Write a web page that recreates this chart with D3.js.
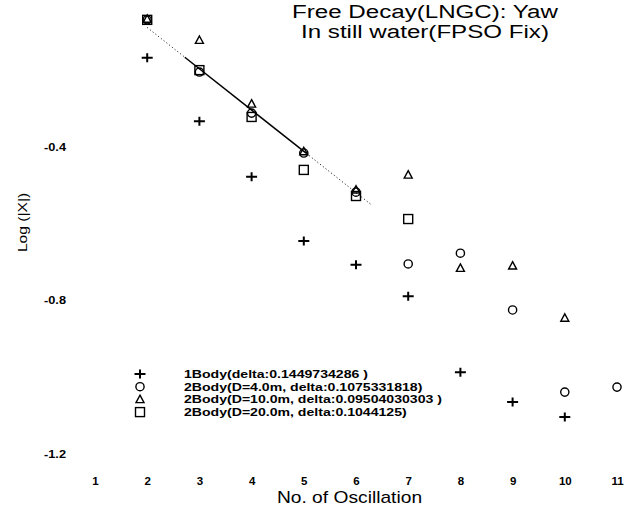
<!DOCTYPE html>
<html>
<head>
<meta charset="utf-8">
<script src="https://cdn.jsdelivr.net/npm/d3@7"></script>
<style>
  html, body { margin: 0; padding: 0; background: #fff; }
  svg { display: block; font-family: "Liberation Sans", Arial, sans-serif; }
</style>
</head>
<body>
<svg id="chart" width="637" height="513"></svg>
<script>
// Oscillation number (cycle index)
const oscillations = [2, 3, 4, 5, 6, 7, 8, 9, 10, 11];

// Log of peak yaw amplitude per oscillation
const oneBody   = [-0.169, -0.334, -0.479, -0.646, -0.708, -0.790, -0.988, -1.066, -1.105];
const twoBodyD4  = [-0.070, -0.206, -0.313, -0.417, -0.519, -0.706, -0.678, -0.826, -1.040, -1.027];
const twoBodyD10 = [-0.068, -0.123, -0.289, -0.413, -0.513, -0.474, -0.717, -0.711, -0.847];
const twoBodyD20 = [-0.070, -0.201, -0.323, -0.461, -0.529, -0.589];

const seriesNames = [
  "1Body(delta:0.1449734286 )",
  "2Body(D=4.0m, delta:0.1075331818)",
  "2Body(D=10.0m, delta:0.09504030303 )",
  "2Body(D=20.0m, delta:0.1044125)"
];
const seriesShapes = ["plus", "circle", "triangle", "square"];
const deltaD4 = 0.1075331818;

const xTicks = [1, 2, 3, 4, 5, 6, 7, 8, 9, 10, 11];
const yTicks = [-0.4, -0.8, -1.2];
const yTickLabels = ["-0.4", "-0.8", "-1.2"];

const titleLines = ["Free Decay(LNGC): Yaw", "In still water(FPSO Fix)"];
const xTitle = "No. of Oscillation";
const yTitle = "Log (|X|)";

const svg = d3.select("#chart");
svg.append("rect").attr("width", 637).attr("height", 513).attr("fill", "#fff");

const x = d3.scaleLinear().domain([1, 11]).range([95, 617]);
const y = d3.scaleLinear().domain([-0.4, -1.2]).range([146.5, 453.5]);

// widen glyphs horizontally by factor k
function stretch(sel, k) {
  sel.each(function () {
    const w = this.getComputedTextLength();
    d3.select(this).attr("textLength", w * k).attr("lengthAdjust", "spacingAndGlyphs");
  });
}

// axes: labels only, no lines or tick marks
const gx = svg.append("g").attr("transform", "translate(0,485)")
  .call(d3.axisBottom(x).tickValues(xTicks).tickSize(0).tickPadding(0).tickFormat(d3.format("d")));
gx.select(".domain").remove();
gx.selectAll("text").attr("y", 0).attr("dy", 0)
  .attr("font-size", 11.5).attr("font-weight", "bold").attr("fill", "#000")
  .attr("font-family", "Liberation Sans, Arial, sans-serif");

const gy = svg.append("g").attr("transform", "translate(66,0)")
  .call(d3.axisLeft(y).tickValues(yTicks).tickSize(0).tickPadding(0).tickFormat((d, i) => yTickLabels[i]));
gy.select(".domain").remove();
gy.selectAll("text").attr("x", 0).attr("dy", "0.36em")
  .attr("font-size", 11).attr("font-weight", "bold").attr("fill", "#000")
  .attr("font-family", "Liberation Sans, Arial, sans-serif");
stretch(gy.selectAll("text"), 1.16);

// marker drawing
function drawMarker(g, shape, cx, cy) {
  if (shape === "plus") {
    g.append("path").attr("d", `M${cx - 5.5},${cy}H${cx + 5.5}M${cx},${cy - 4.5}V${cy + 4.5}`)
      .attr("stroke", "#000").attr("stroke-width", 2).attr("fill", "none");
  } else if (shape === "circle") {
    g.append("circle").attr("cx", cx).attr("cy", cy).attr("r", 4.1)
      .attr("stroke", "#000").attr("stroke-width", 1.4).attr("fill", "none");
  } else if (shape === "triangle") {
    g.append("path").attr("d", `M${cx},${cy - 4.2}L${cx + 4},${cy + 3.2}L${cx - 4},${cy + 3.2}Z`)
      .attr("stroke", "#000").attr("stroke-width", 1.4).attr("fill", "none").attr("stroke-linejoin", "miter");
  } else {
    g.append("rect").attr("x", cx - 4.5).attr("y", cy - 4.5).attr("width", 9).attr("height", 9)
      .attr("stroke", "#000").attr("stroke-width", 1.4).attr("fill", "none");
  }
}

// fitted decay line for D=4.0m, slope = -delta
const fitN = 5;
const fitC = d3.mean(twoBodyD4.slice(0, fitN).map((v, i) => v + deltaD4 * oscillations[i]));
const fitLine = d3.line().x(d => x(d)).y(d => y(fitC - deltaD4 * d));
const lineG = svg.append("g");
lineG.append("path").attr("d", fitLine([2.0, 2.72])).attr("stroke", "#000")
  .attr("stroke-width", 1).attr("stroke-dasharray", "1,2.5").attr("fill", "none");
lineG.append("path").attr("d", fitLine([2.72, 5.05])).attr("stroke", "#000")
  .attr("stroke-width", 1.5).attr("fill", "none");
lineG.append("path").attr("d", fitLine([5.05, 6.3])).attr("stroke", "#000")
  .attr("stroke-width", 1).attr("stroke-dasharray", "1,2.5").attr("fill", "none");

// data points
const allSeries = [oneBody, twoBodyD4, twoBodyD10, twoBodyD20];
const pts = svg.append("g");
allSeries.forEach((vals, s) => {
  vals.forEach((v, i) => drawMarker(pts, seriesShapes[s], x(oscillations[i]), y(v)));
});

// legend
const legend = svg.append("g");
seriesNames.forEach((name, i) => {
  const cy = 374 + i * 12.7;
  drawMarker(legend, seriesShapes[i], 140, cy);
  legend.append("text").attr("x", 184).attr("y", cy).attr("dy", "0.36em")
    .attr("font-size", 11).attr("font-weight", "bold").attr("fill", "#000").text(name);
});
stretch(legend.selectAll("text"), 1.28);

// titles
const title = svg.append("g");
titleLines.forEach((t, i) => {
  title.append("text").attr("x", 425).attr("y", 18 + i * 19.5).attr("text-anchor", "middle")
    .attr("font-size", 18).attr("fill", "#000").text(t);
});
stretch(title.selectAll("text"), 1.34);

const xt = svg.append("text").attr("x", 349.5).attr("y", 503).attr("text-anchor", "middle")
  .attr("font-size", 17).attr("fill", "#000").text(xTitle);
stretch(xt, 1.13);

const yt = svg.append("text").attr("transform", "translate(26.5,222.5) rotate(-90)")
  .attr("text-anchor", "middle").attr("font-size", 13).attr("fill", "#000").text(yTitle);
stretch(yt, 1.2);
</script>
</body>
</html>
